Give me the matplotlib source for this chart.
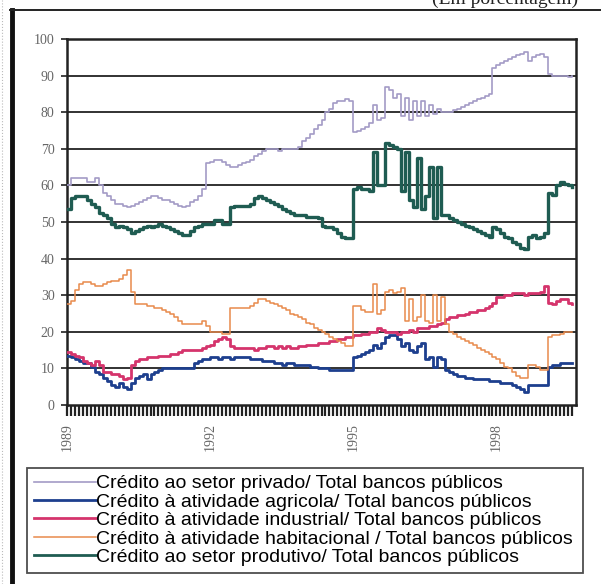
import numpy as np
import matplotlib.pyplot as plt
from matplotlib.lines import Line2D

# monthly shares (%), Jan 1989 .. Aug 1999, one row per year
privado = [60, 62, 62, 62, 62, 61, 61, 62, 60, 58, 57, 56,
           55, 55, 54.5, 54, 54.5, 55, 55.5, 56, 56.5, 57, 57, 56.5,
           56, 56, 55.5, 55, 54.5, 54, 54.5, 55.5, 56, 57, 59, 66,
           66.5, 67, 67, 66.5, 65.5, 65, 65, 65.5, 66, 66.5, 67, 68,
           68.5, 69.5, 70, 70, 70, 69.5, 70, 70, 70, 70, 70.5, 72,
           73, 74, 75.5, 76.5, 78, 80, 81, 82.5, 83, 83, 83.5, 83,
           74.5, 75, 75.5, 76, 77, 82, 78, 78.5, 87, 86, 84, 85,
           79, 84, 78, 83, 79, 83, 79, 82, 79.5, 81, 80, 80,
           80, 80.5, 81, 81.5, 82, 82.5, 83, 83.5, 84, 84.5, 85, 92,
           93, 93.5, 94, 94.5, 95, 95.5, 96, 96.5, 94, 95, 95.5, 96,
           95, 90.5, 90, 90, 90, 90, 89.5, 90]

agricola = [13.5, 13, 12.5, 12, 11.5, 11.5, 10.5, 9, 8.5, 7.5, 6.5, 5.5,
            5, 6, 5, 4.5, 6, 7.5, 8, 8.5, 7, 8.5, 9, 9.5,
            10, 10, 10, 10, 10, 10, 10, 10, 11.5, 12, 12.5, 12.5,
            13, 13, 12.5, 13, 13, 12.5, 13, 13, 13, 13, 12.5, 12.5,
            12.5, 12, 12, 12, 11.5, 11.5, 11, 11.5, 11.5, 11, 11, 11,
            11, 10.5, 10.5, 10, 10, 10, 9.5, 9.5, 9.5, 9.5, 9.5, 9.5,
            13, 13.5, 14, 14.5, 15, 16.5, 15.5, 17, 18.5, 19, 19, 18,
            16, 17, 15, 14.5, 16, 17, 12.5, 13, 10.5, 13, 12.5, 9.5,
            9, 8.5, 8, 8, 7.5, 7.5, 7, 7, 7, 7, 6.5, 6.5,
            6.5, 6, 6, 6, 5.5, 5, 4.5, 3.5, 5.5, 5.5, 5.5, 5.5,
            5.5, 10.5, 11, 11, 11.5, 11.5, 11.5, 11.5]

industrial = [14.5, 14, 13.5, 13, 12, 11.5, 11, 12, 11, 9, 9, 8.5,
              8.5, 8, 7, 7.5, 11, 12, 12.5, 12.5, 13, 13, 13, 13.5,
              13.5, 13.5, 14, 14, 14.5, 15, 15, 15, 15, 15, 15.5, 16,
              16.5, 17.5, 18, 18.5, 18, 16, 15.5, 15.5, 15.5, 15.5, 15.5, 15,
              15.5, 15.5, 16, 16, 15.5, 16, 15.5, 16, 15.5, 15.5, 16, 16,
              16.5, 16.5, 16.5, 17, 17, 17, 17.5, 17.5, 18, 18, 18.5, 18.5,
              19, 19, 19.5, 19.5, 20, 20, 21, 20.5, 20, 20, 20, 19.5,
              20, 20, 20.5, 20, 21, 21, 21, 21.5, 21.5, 22, 22.5, 23.5,
              24, 24, 24.5, 24.5, 25, 25.5, 25.5, 26, 26, 26.5, 27, 28,
              29.5, 29.5, 30, 30, 30.5, 30.5, 30.5, 30, 30.5, 30.5, 30.5, 31,
              32.5, 28, 27.5, 28.5, 29, 29, 28, 27.5]

habitacional = [27.5, 28.5, 31.5, 33, 33.5, 33.5, 33, 32.5, 32.5, 33, 33.5, 34,
                34, 34.5, 35.5, 37, 31, 27.5, 27.5, 27.5, 27, 27, 26.5, 26.5,
                26, 25.5, 25, 24, 23, 22, 22, 22, 22, 22, 23, 21.5,
                20, 20, 20, 19.5, 19.5, 26.5, 26.5, 26.5, 26.5, 26.5, 27, 28,
                29, 29, 28.5, 28, 27.5, 27, 26.5, 26, 25, 24.5, 24, 23.5,
                22.5, 22, 21, 20.5, 20, 19.5, 18.5, 18, 17.5, 17, 16, 16,
                27, 27, 26, 25.5, 25.5, 33, 25, 26, 31, 31.5, 30.5, 31,
                32, 23, 29, 23, 24, 30, 23, 22.5, 30, 23, 29.5, 22,
                20, 19.5, 18.5, 18, 17.5, 17, 16.5, 15.5, 15, 14.5, 14, 13,
                12.5, 11.5, 10.5, 10, 9, 8, 7.5, 7.5, 11, 11, 10.5, 9.5,
                9.5, 18.5, 19, 19, 19.5, 20, 20, 20]

produtivo = [53.5, 56.5, 57, 57, 57, 56, 55, 54, 52.5, 52, 51, 49.5,
             48.5, 49, 48.5, 48, 47, 47.5, 48, 48.5, 49, 48.5, 49, 49.5,
             49, 48.5, 48, 47.5, 47, 46.5, 46.5, 47.5, 48.5, 49, 49.5, 49.5,
             49.5, 50.5, 50.5, 49.5, 49.5, 54, 54.5, 54.5, 54.5, 54.5, 55, 56.5,
             57, 56.5, 56, 55.5, 55, 54.5, 53.5, 53, 52.5, 52, 52, 52,
             51.5, 51.5, 51.5, 51, 49, 48.5, 48.5, 48, 47, 46, 45.5, 45.5,
             59, 59.5, 59, 59, 58.5, 69, 60, 60, 71.5, 71, 70.5, 70,
             58.5, 69, 56, 54, 67.5, 53.5, 57, 65, 51, 65, 52, 52,
             51, 50.5, 50, 49.5, 49, 48.5, 48, 47.5, 47, 46.5, 46, 48.5,
             48, 47, 46, 45.5, 44.5, 44, 43, 42.5, 46, 46.5, 45.5, 46,
             47, 58, 57.5, 60, 61, 60.5, 60, 59.5]

first_year = 1989
label_years = [1989, 1992, 1995, 1998]

labels = ['Crédito ao setor privado/ Total bancos públicos',
          'Crédito à atividade agricola/ Total bancos públicos',
          'Crédito à atividade industrial/ Total bancos públicos',
          'Crédito à atividade habitacional / Total bancos públicos',
          'Crédito ao setor produtivo/ Total bancos públicos']

W, H = 601, 584
fig = plt.figure(figsize=(W / 100, H / 100), dpi=100)
ax = fig.add_axes([67 / W, 1 - 405 / H, (576 - 67) / W, (405 - 39) / H])

n = len(privado)
months = np.arange(n)
series = [
    (privado, '#a39bc6', 1.2),
    (agricola, '#1d3f8e', 2.0),
    (industrial, '#d5346c', 2.0),
    (habitacional, '#e88a4c', 1.1),
    (produtivo, '#1f5c52', 2.4),
]
handles = []
for vals, col, lw in series:
    ax.plot(months, vals, drawstyle='steps-post', color=col, lw=lw, zorder=3)
    handles.append(Line2D([], [], color=col, lw=min(lw, 2.0)))

ax.set_xlim(0, n)
ax.set_ylim(0, 100)
ax.set_yticks(range(0, 101, 10))
ax.set_yticklabels([str(v) for v in range(0, 101, 10)],
                   family='Liberation Serif', fontsize=10, color='#666666')
for v in range(10, 100, 10):
    ax.axhline(v, color='#222222', lw=1.3, zorder=1)

xt = np.arange(n)
xl = [str(first_year + m // 12) if (m % 12 == 0 and first_year + m // 12 in label_years) else ''
      for m in xt]
ax.set_xticks(xt)
ax.set_xticklabels(xl, rotation=90, family='Liberation Serif', fontsize=10, color='#666666')
ax.tick_params(axis='x', length=8, width=1.6, color='#222222', direction='out', pad=5)
ax.tick_params(axis='y', length=4, width=1.2, color='#222222', pad=5)
for s in ax.spines.values():
    s.set_linewidth(1.8)
    s.set_color('#222222')

# legend box
leg = fig.legend(handles, labels, loc='upper left',
                 bbox_to_anchor=(27 / W, 1 - 578 / H, (583 - 27) / W, 110 / H),
                 mode='expand', frameon=True, fancybox=False, edgecolor='#222222',
                 prop={'family': 'Liberation Sans', 'size': 14},
                 handlelength=3.2, handletextpad=0.0, labelspacing=0.04,
                 borderpad=0.35, borderaxespad=0)
leg.get_frame().set_linewidth(1.3)

# outer page frame and clipped header
fig.add_artist(Line2D([12 / W, 12 / W], [0, 1 - 10 / H], color='#111111', lw=3.5))
fig.add_artist(Line2D([10 / W, 1], [1 - 10 / H, 1 - 10 / H], color='#222222', lw=1.4))
fig.add_artist(Line2D([2 / W, 2 / W], [0, 1], color='#bbbbbb', lw=0.8, ls=':'))
fig.text(432 / W, 1 - 4 / H, '(Em porcentagem)', family='Liberation Serif',
         fontsize=14, va='baseline', ha='left', color='#222222')

fig.savefig('out.png', dpi=100)
